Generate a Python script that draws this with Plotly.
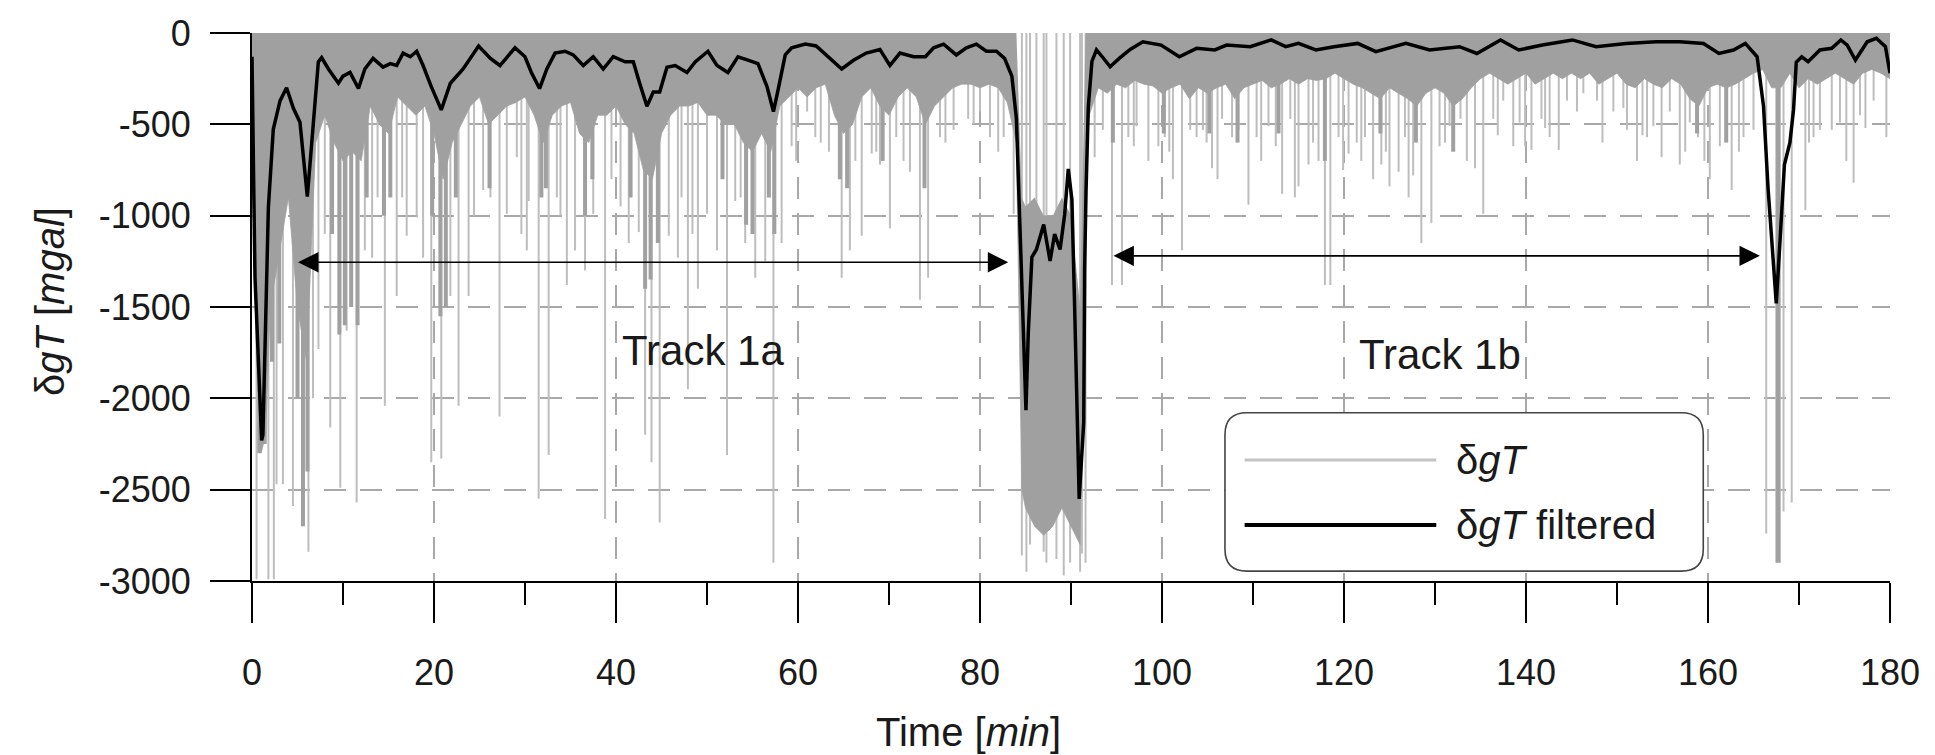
import plotly.graph_objects as go

# ---------------- data ----------------
# filtered signal (Time [min], dgT [mgal])
filt_t = [0.0, 0.1, 0.2, 0.33, 0.7, 1.06, 1.2, 1.43, 1.8, 2.34, 3.08, 3.8, 4.54, 5.27, 5.8, 6.08,
          6.37, 6.9, 7.29, 7.65, 8.4, 9.5, 10.0, 10.77, 11.7, 12.4, 13.3, 14.4, 15.2, 15.9, 16.6,
          17.4, 18.1, 18.8, 19.7, 20.8, 21.8, 23.2, 24.9, 26.2, 27.25, 28.9, 30.0, 30.7, 31.6,
          32.4, 33.3, 34.4, 35.3, 36.4, 37.5, 38.6, 39.7, 41.0, 41.9, 42.6, 43.4, 44.1, 44.8,
          45.6, 46.5, 47.8, 48.7, 50.1, 51.1, 52.3, 53.4, 54.5, 55.6, 56.6, 57.3, 57.8, 58.6,
          59.3, 60.8, 62.0, 63.5, 64.8, 66.1, 67.5, 69.0, 70.1, 71.2, 72.7, 74.0, 74.9, 76.0,
          77.4, 78.5, 79.6, 80.7, 81.8, 82.7, 83.5, 84.0, 84.2, 84.4, 84.7, 84.9, 85.05, 85.3,
          85.7, 86.2, 87.0, 87.7, 88.2, 88.8, 89.3, 89.7, 90.1, 90.4, 90.8, 90.9, 91.4, 91.5,
          91.65, 91.9, 92.3, 92.8, 93.5, 94.3, 95.3, 96.5, 97.9, 99.9, 101.9, 103.8, 105.8,
          107.1, 109.7, 112.0, 113.6, 115.0, 116.9, 118.9, 121.5, 123.5, 126.8, 129.4, 132.7,
          134.6, 137.2, 139.2, 141.8, 145.1, 147.7, 151.0, 154.3, 156.9, 159.5, 161.2, 162.8,
          164.1, 165.4, 166.1, 166.6, 167.1, 167.5, 167.9, 168.4, 169.0, 169.4, 169.7, 170.3,
          171.0, 172.3, 173.6, 174.6, 175.3, 176.2, 177.5, 178.5, 179.5, 180.0]
filt_v = [-130, -400, -880, -1340, -1850, -2230, -2200, -1730, -955, -527, -372, -300, -411,
          -488, -760, -896, -721, -372, -158, -135, -197, -275, -236, -216, -304, -197, -139,
          -187, -168, -178, -110, -130, -100, -178, -294, -421, -275, -197, -71, -139, -178,
          -81, -130, -216, -304, -197, -110, -100, -120, -178, -130, -197, -130, -158, -158,
          -275, -401, -323, -323, -187, -178, -216, -158, -100, -178, -216, -130, -149, -168,
          -294, -430, -314, -120, -81, -61, -71, -139, -197, -149, -110, -90, -178, -110, -130,
          -130, -81, -61, -120, -81, -61, -100, -100, -139, -236, -469, -760, -1149, -1537,
          -1828, -2065, -1647, -1227, -1185, -1048, -1248, -1101, -1185, -996, -744, -912,
          -1500, -2236, -2551, -2130, -1290, -870, -406, -155, -92, -134, -185, -139, -90, -48,
          -66, -130, -84, -93, -66, -75, -38, -75, -57, -93, -75, -57, -102, -57, -93, -75,
          -112, -38, -93, -66, -38, -75, -57, -48, -48, -57, -112, -93, -57, -130, -400, -850,
          -1200, -1480, -1150, -720, -600, -420, -160, -130, -157, -93, -84, -38, -66, -148,
          -48, -29, -75, -220]

# dense part of the raw signal: upper and lower edge of the dark band
band_t = ([0, 0.5, 1, 1.5, 2] + list(range(3, 85))
          + [84.6, 85, 86, 87, 88, 89, 90, 91]
          + [91.6, 92] + list(range(93, 181)))
band_top = [0] * 87 + [-900, -950, -900, -1000, -1000, -900, -1000, -1500] + [0] * 90
band_bot = ([-500, -1800, -2300, -2200, -1500,
             -1200, -900, -1500, -1800, -600, -450, -600, -700, -650, -700,
             -400, -500, -550, -350, -400, -450, -400, -550, -800, -600,
             -500, -400, -350, -500, -450, -400, -380, -350, -450, -600,
             -450, -400, -380, -550, -600, -450, -450, -400, -500, -550,
             -750, -800, -550, -450, -400, -400, -380, -450, -450, -500,
             -500, -600, -650, -550, -650, -400, -350, -300, -350, -300,
             -280, -450, -550, -500, -350, -300, -400, -450, -350, -300,
             -350, -500, -400, -350, -300, -280, -280, -300, -280, -300,
             -380, -600]
            + [-2500, -2600, -2700, -2750, -2700, -2600, -2700, -2800]
            + [-800, -450,
               -300, -330, -280, -300, -260, -280, -290, -330, -300, -280,
               -360, -300, -330, -300, -280, -360, -300, -280, -260, -300,
               -280, -250, -280, -250, -260, -250, -220, -250, -280, -300,
               -330, -360, -300, -330, -360, -400, -330, -300, -330, -400,
               -360, -300, -250, -220, -250, -280, -250, -220, -280, -250,
               -220, -250, -220, -250, -220, -280, -250, -220, -280, -300,
               -250, -280, -300, -250, -280, -360, -400, -300, -280, -300,
               -280, -250, -220, -200, -300, -300, -220, -300, -250, -280,
               -250, -220, -250, -280, -220, -200, -220, -250])

# darker (dense) strips of the raw signal (time, depth)
dark_t = [0.8, 1.4, 2.2, 3.0, 5.0, 5.6, 6.1, 8.8, 9.6, 10.2, 10.9, 11.6, 12.6, 14.5, 15.2,
          19.8, 20.7, 21.3, 22.4, 26.1, 31.8, 32.3, 36.6, 37.4, 41.6, 43.2, 43.8, 44.6, 51.7,
          54.3, 55.0, 56.8, 57.4, 64.6, 65.4, 69.3, 73.9, 94.6, 100.2, 105.2, 108.3, 112.8,
          117.9, 124.0, 127.9, 132.0, 158.8, 162.0, 167.7]
dark_v = [-2300, -2250, -1800, -1700, -2000, -2700, -2400, -1100, -1650, -1600, -1500, -1600,
          -900, -1000, -900, -1000, -1550, -1500, -900, -850, -900, -850, -1000, -800, -900,
          -1400, -1350, -1150, -800, -1050, -1100, -900, -1100, -800, -850, -700, -850, -600,
          -550, -550, -600, -550, -700, -550, -600, -650, -550, -600, -2900]

# isolated light spikes of the raw signal (time, depth)
spike_t = [0.5, 1.8, 2.4, 2.7, 3.4, 4.5, 5.5, 6.2, 6.7, 7.3, 8.6, 9.7, 10.4, 11.5, 12.4, 13.2,
           14.6, 15.9, 17.0, 18.1, 18.8, 19.7, 20.8, 21.8, 22.7, 23.8, 25.4, 26.2, 27.2, 28.0,
           29.1, 30.2, 30.4, 31.5, 32.6, 33.5, 34.6, 35.5, 36.6, 37.5, 38.8, 41.4, 42.5, 43.2,
           43.9, 44.8, 45.8, 46.8, 47.9, 49.0, 50.0, 51.1, 52.2, 53.1, 54.2, 55.3, 56.4, 57.3,
           58.2, 59.3, 61.0, 61.9, 64.8, 65.7, 67.0, 68.1, 69.0, 70.1, 70.8, 72.3, 73.4, 74.3,
           75.6, 77.1, 78.7, 80.0, 81.1, 82.6, 83.7, 84.6, 85.1, 85.5, 86.2, 87.0, 87.3, 88.4,
           89.2, 89.9, 91.0, 91.2, 91.6, 92.6, 93.5, 94.5, 95.6, 96.3, 97.2, 99.6, 100.3, 101.2,
           102.2, 103.1, 103.8, 104.5, 105.5, 106.6, 107.7, 108.4, 109.5, 110.4, 111.7, 113.2,
           114.1, 115.0, 116.1, 117.2, 117.9, 118.5, 119.4, 120.5, 121.4, 122.3, 123.2, 124.1,
           125.0, 126.0, 126.7, 127.6, 128.5, 129.6, 130.5, 131.6, 132.8, 134.4, 135.3, 136.4,
           137.5, 138.6, 139.3, 140.6, 141.7, 142.6, 143.6, 144.5, 145.6, 146.3, 147.8, 149.6,
           150.7, 151.1, 152.2, 153.3, 154.0, 154.9, 155.8, 156.9, 158.0, 158.9, 160.2, 161.3,
           162.6, 163.9, 165.0, 166.4, 167.5, 167.9, 168.3, 169.2, 170.7, 171.6, 172.3, 173.6,
           174.5, 176.0, 176.7, 178.2, 179.6,
           8.0, 13.8, 16.5, 24.4, 29.6, 33.9, 39.5, 40.5, 47.2, 48.4, 53.7, 59.8, 62.5, 63.4,
           66.3, 68.6, 71.6, 76.2, 79.3, 82.0, 96.9, 98.5, 100.8, 104.9, 106.1, 110.9, 112.5,
           114.6, 116.6, 119.9, 121.9, 124.6, 127.1, 131.1, 133.5, 136.9, 139.9, 142.1, 148.4,
           152.8, 157.5, 159.6, 163.4, 171.1, 175.2, 177.3]
spike_v = [-2990, -2990, -2990, -2470, -2470, -2590, -2700, -2840, -2000, -1730, -2160, -2490,
           -1630, -2570, -1190, -1230, -2040, -1440, -1110, -1010, -1230, -2350, -2330, -1440,
           -2040, -1440, -860, -900, -2100, -990, -680, -1190, -920, -2550, -2310, -900, -1380,
           -1190, -1300, -990, -2660, -1150, -1090, -2200, -2350, -2680, -1110, -1230, -1950,
           -1400, -990, -1190, -2310, -920, -1150, -1340, -1250, -2900, -1150, -620, -430, -570,
           -1340, -1190, -1110, -660, -720, -1070, -570, -760, -1460, -1340, -570, -530, -470,
           -430, -570, -570, -990, -2860, -2950, -2800, -2700, -2840, -2900, -2880, -2970,
           -2900, -2950, -2850, -2900, -680, -530, -1380, -1380, -570, -510, -620, -570, -800,
           -1190, -530, -570, -530, -740, -470, -570, -530, -940, -570, -510, -880, -470, -840,
           -720, -700, -1380, -1380, -570, -660, -600, -570, -800, -720, -840, -760, -570, -780,
           -1150, -1040, -620, -510, -470, -740, -990, -470, -370, -620, -490, -640, -470, -570,
           -640, -370, -430, -330, -370, -430, -410, -530, -700, -570, -510, -680, -430, -720,
           -490, -570, -800, -620, -860, -570, -530, -2740, -2900, -2900, -2620, -2570, -970,
           -570, -530, -530, -490, -820, -450, -370, -570,
           -1100, -900, -900, -1000, -1100, -1000, -800, -950, -900, -1100, -900, -700, -600,
           -650, -700, -650, -700, -600, -500, -650, -620, -700, -650, -600, -800, -700, -620,
           -900, -600, -750, -700, -650, -900, -600, -700, -560, -620, -520, -600, -560, -650,
           -700, -650, -600, -700, -520]

x_tickvals = [0, 20, 40, 60, 80, 100, 120, 140, 160, 180]
x_ticktext = ["0", "20", "40", "60", "80", "100", "120", "140", "160", "180"]
y_tickvals = [0, -500, -1000, -1500, -2000, -2500, -3000]
y_ticktext = ["0", "-500", "-1000", "-1500", "-2000", "-2500", "-3000"]

track_labels = ["Track 1a", "Track 1b"]
track_label_t = [49.6, 130.5]
track_label_v = [-1740, -1760]
track_arrow_t0 = [4.9, 94.5]
track_arrow_t1 = [83.1, 165.7]
track_arrow_v = [-1255, -1220]

legend_labels = ["δ<i>gT</i>", "δ<i>gT</i> filtered"]

# ---------------- figure ----------------
FONT = "Liberation Sans, Arial, sans-serif"
RAW_LIGHT = "#bdbdbd"
RAW_DARK = "#a0a0a0"

fig = go.Figure()

sx, sy = [], []
for t, v in zip(spike_t, spike_v):
    sx += [t, t, None]
    sy += [0, v, None]
fig.add_trace(go.Scatter(x=sx, y=sy, mode="lines", line=dict(color=RAW_LIGHT, width=2.0),
                         showlegend=False, hoverinfo="skip"))

dx, dy = [], []
for t, v in zip(dark_t, dark_v):
    dx += [t, t, None]
    dy += [0, v, None]
fig.add_trace(go.Scatter(x=dx, y=dy, mode="lines", line=dict(color=RAW_DARK, width=4),
                         showlegend=False, hoverinfo="skip"))

fig.add_trace(go.Scatter(x=band_t, y=band_top, mode="lines", line=dict(width=0, color=RAW_DARK),
                         showlegend=False, hoverinfo="skip"))
fig.add_trace(go.Scatter(x=band_t, y=band_bot, mode="lines", fill="tonexty",
                         fillcolor=RAW_DARK, line=dict(width=0.8, color=RAW_DARK),
                         showlegend=False, hoverinfo="skip"))

fig.add_trace(go.Scatter(x=filt_t, y=filt_v, mode="lines", line=dict(color="black", width=3.5),
                         showlegend=False, name="δgT filtered"))

# track arrows and labels
for t0, t1, v in zip(track_arrow_t0, track_arrow_t1, track_arrow_v):
    fig.add_annotation(x=t1, y=v, ax=t0, ay=v, xref="x", yref="y", axref="x", ayref="y",
                       text="", showarrow=True, arrowhead=2, startarrowhead=2,
                       arrowside="end+start", arrowsize=2.4, startarrowsize=2.4,
                       arrowwidth=1.7, arrowcolor="black")
for lab, t, v in zip(track_labels, track_label_t, track_label_v):
    fig.add_annotation(x=t, y=v, xref="x", yref="y", text=lab, showarrow=False,
                       font=dict(family=FONT, size=42, color="#1a1a1a"))

# manual legend with rounded box
x0, x1, y0, y1 = 0.594, 0.886, 0.018, 0.307
rx, ry = 0.0134, 0.040
path = (f"M {x0+rx},{y0} L {x1-rx},{y0} Q {x1},{y0} {x1},{y0+ry} L {x1},{y1-ry} "
        f"Q {x1},{y1} {x1-rx},{y1} L {x0+rx},{y1} Q {x0},{y1} {x0},{y1-ry} "
        f"L {x0},{y0+ry} Q {x0},{y0} {x0+rx},{y0} Z")
fig.add_shape(type="path", path=path, xref="paper", yref="paper",
              line=dict(color="#444", width=1.6), fillcolor="white", layer="above")
leg_y = [0.221, 0.102]
leg_col = ["#c4c4c4", "black"]
leg_w = [3, 4]
for lab, yy, c, w in zip(legend_labels, leg_y, leg_col, leg_w):
    fig.add_shape(type="line", xref="paper", yref="paper", x0=0.606, x1=0.723, y0=yy, y1=yy,
                  line=dict(color=c, width=w), layer="above")
    fig.add_annotation(x=0.734, y=yy, xref="paper", yref="paper", text=lab, showarrow=False,
                       xanchor="left", yanchor="middle",
                       font=dict(family=FONT, size=40, color="#1a1a1a"))

# axis titles
fig.add_annotation(x=0.4377, y=-0.276, xref="paper", yref="paper", text="Time [<i>min</i>]",
                   showarrow=False, xanchor="center", yanchor="middle",
                   font=dict(family=FONT, size=40, color="#1a1a1a"))
fig.add_annotation(x=-0.1233, y=0.509, xref="paper", yref="paper",
                   text="δ<i>gT</i> [<i>mgal</i>]", textangle=-90, showarrow=False,
                   xanchor="center", yanchor="middle",
                   font=dict(family=FONT, size=40, color="#1a1a1a"))

grid = dict(showgrid=True, gridcolor="#a8a8a8", gridwidth=1.8, griddash="22px,14px")
fig.update_xaxes(range=[0, 180], tickmode="array", tickvals=x_tickvals, ticktext=x_ticktext,
                 ticks="outside", ticklen=40, tickwidth=1.5, tickcolor="black",
                 showline=True, linecolor="black", linewidth=1.8, zeroline=False,
                 tickfont=dict(family=FONT, size=36, color="#1a1a1a"), ticklabelstandoff=19,
                 minor=dict(dtick=10, tick0=0, ticks="outside", ticklen=22, tickwidth=1.5,
                            tickcolor="black", showgrid=False),
                 **grid)
fig.update_yaxes(range=[-3000, 0], tickmode="array", tickvals=y_tickvals, ticktext=y_ticktext,
                 ticks="outside", ticklen=40, tickwidth=1.5, tickcolor="black",
                 showline=True, linecolor="black", linewidth=1.8, zeroline=False,
                 tickfont=dict(family=FONT, size=36, color="#1a1a1a"), ticklabelstandoff=12,
                 **grid)

fig.update_layout(width=1935, height=755, margin=dict(l=252, r=45, t=33, b=174),
                  paper_bgcolor="white", plot_bgcolor="white", showlegend=False,
                  font=dict(family=FONT))

fig.write_html("out.html")
